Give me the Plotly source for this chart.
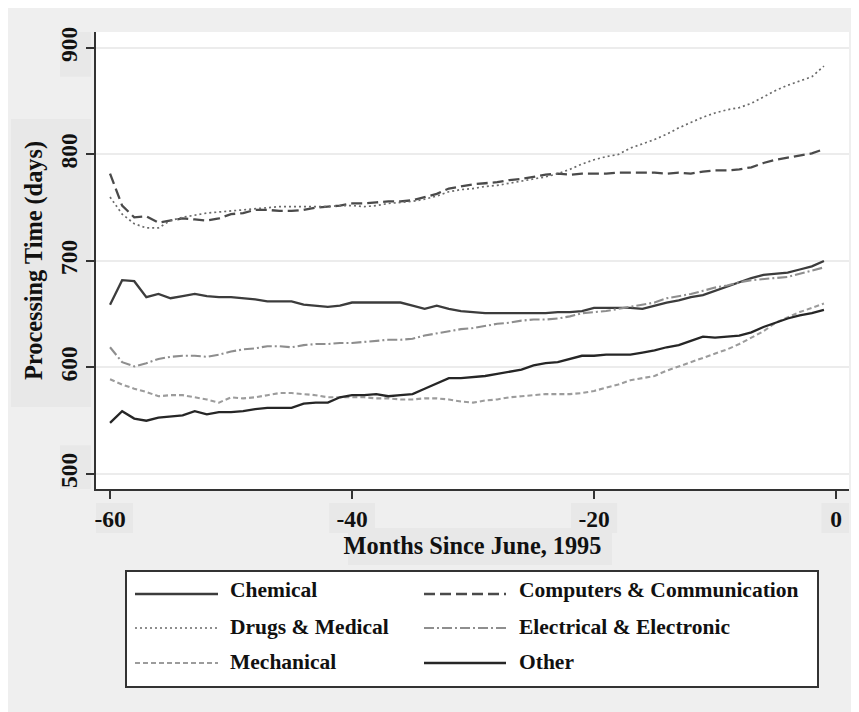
import plotly.graph_objects as go

months = list(range(-60, 0))

chemical = [659, 682, 681, 666, 669, 665, 667, 669, 667, 666,
            666, 665, 664, 662, 662, 662, 659, 658, 657, 658,
            661, 661, 661, 661, 661, 658, 655, 658, 655, 653,
            652, 651, 651, 651, 651, 651, 651, 652, 652, 653,
            656, 656, 656, 656, 655, 658, 661, 663, 666, 668,
            672, 676, 680, 684, 687, 688, 689, 692, 695, 700]

computers = [782, 752, 741, 742, 736, 738, 740, 739, 738, 740,
             744, 745, 748, 748, 747, 747, 748, 750, 751, 752,
             754, 754, 755, 756, 756, 757, 760, 763, 768, 770,
             772, 773, 774, 776, 777, 779, 781, 782, 781, 782,
             782, 782, 783, 783, 783, 783, 782, 783, 782, 784,
             785, 785, 786, 788, 792, 795, 797, 799, 801, 805]

drugs = [760, 744, 735, 731, 731, 738, 741, 743, 745, 746,
         747, 748, 749, 750, 751, 751, 751, 751, 751, 752,
         752, 751, 752, 754, 755, 756, 758, 761, 765, 767,
         768, 770, 771, 773, 775, 777, 779, 782, 786, 791,
         795, 798, 800, 806, 810, 814, 819, 825, 830, 835,
         839, 842, 844, 848, 854, 860, 865, 869, 873, 883]

electrical = [619, 605, 601, 604, 608, 610, 611, 611, 610, 612,
              615, 617, 618, 620, 620, 619, 621, 622, 622, 623,
              623, 624, 625, 626, 626, 627, 630, 632, 634, 636,
              637, 639, 641, 642, 644, 645, 645, 646, 648, 651,
              652, 653, 655, 657, 659, 661, 665, 667, 669, 672,
              675, 677, 680, 682, 683, 684, 685, 688, 691, 694]

mechanical = [589, 584, 580, 577, 573, 574, 574, 572, 570, 567,
              572, 571, 572, 574, 576, 576, 575, 574, 572, 572,
              572, 572, 571, 571, 570, 570, 571, 571, 570, 568,
              567, 569, 570, 572, 573, 574, 575, 575, 575, 576,
              578, 581, 584, 588, 590, 592, 597, 601, 605, 609,
              613, 617, 622, 628, 634, 642, 647, 652, 656, 660]

other = [548, 559, 552, 550, 553, 554, 555, 559, 556, 558,
         558, 559, 561, 562, 562, 562, 566, 567, 567, 572,
         574, 574, 575, 573, 574, 575, 580, 585, 590, 590,
         591, 592, 594, 596, 598, 602, 604, 605, 608, 611,
         611, 612, 612, 612, 614, 616, 619, 621, 625, 629,
         628, 629, 630, 633, 638, 642, 646, 649, 651, 654]

names = ["Chemical", "Computers & Communication", "Drugs & Medical",
         "Electrical & Electronic", "Mechanical", "Other"]
series = [chemical, computers, drugs, electrical, mechanical, other]

x_ticks = [-60, -40, -20, 0]
y_ticks = [500, 600, 700, 800, 900]

styles = [
    dict(color="#3c3c3c", width=2.3, dash="solid"),
    dict(color="#4a4a4a", width=2.3, dash="11px,5px"),
    dict(color="#6a6a6a", width=1.7, dash="2px,3px"),
    dict(color="#8e8e8e", width=2.1, dash="10px,3px,2px,3px"),
    dict(color="#9c9c9c", width=2.1, dash="5px,3px"),
    dict(color="#262626", width=2.3, dash="solid"),
]

FONT = "Liberation Serif"
OFF = 8                      # page body margin
W, H = 859 - OFF, 712 - OFF
SL, SR, ST, SB = 96, 849, 32, 489   # plot area in screen pixels
L, R, T, B = SL - OFF, SR - OFF, ST - OFF, SB - OFF
XR = [-61.16, 1.07]
YR = [485.9, 915.0]

def px(xs):
    return (xs - SL) / (SR - SL)

def py(ys):
    return (SB - ys) / (SB - ST)

fig = go.Figure()
for name, vals, st in zip(names, series, styles):
    fig.add_trace(go.Scatter(x=months, y=vals, mode="lines", name=name,
                             line=st, showlegend=False))

shapes = []
annotations = []
BOX = "#e8e8e8"

# faint label boxes (as in the source export)
shapes.append(dict(type="rect", xref="paper", yref="paper", x0=px(11), x1=px(91),
                   y0=py(407), y1=py(119), fillcolor=BOX, line_width=0, layer="below"))
for v in y_ticks:
    shapes.append(dict(type="rect", xref="paper", yref="y", x0=px(60), x1=px(91),
                       y0=v - 27, y1=v + 27, fillcolor=BOX, line_width=0, layer="below"))
for v in x_ticks:
    w = 1.9 if v != 0 else 1.2
    shapes.append(dict(type="rect", xref="x", yref="paper", x0=v - w, x1=v + w,
                       y0=py(533), y1=py(503), fillcolor=BOX, line_width=0, layer="below"))
shapes.append(dict(type="rect", xref="paper", yref="paper", x0=px(348), x1=px(612),
                   y0=py(565), y1=py(528), fillcolor=BOX, line_width=0, layer="below"))

# legend box
shapes.append(dict(type="rect", xref="paper", yref="paper", x0=px(126), x1=px(818),
                   y0=py(687), y1=py(571), fillcolor="white",
                   line=dict(color="#333333", width=2)))
cols = [(135, 218, 228), (424, 506, 517)]
rows = [(594, 590), (628, 627), (663, 662)]
for i, (name, st) in enumerate(zip(names, styles)):
    r, c = divmod(i, 2)
    x0, x1, xt = cols[c]
    yl, yt = rows[r]
    shapes.append(dict(type="line", xref="paper", yref="paper",
                       x0=px(x0), x1=px(x1), y0=py(yl), y1=py(yl),
                       line=dict(color=st["color"], width=st["width"], dash=st["dash"])))
    annotations.append(dict(xref="paper", yref="paper", x=px(xt), y=py(yt),
                            text="<b>%s</b>" % name, showarrow=False,
                            xanchor="left", yanchor="middle",
                            font=dict(family=FONT, size=21.5, color="#111111")))

fig.update_layout(
    width=W, height=H,
    margin=dict(l=L, r=W - R, t=T, b=H - B, pad=0),
    paper_bgcolor="#efefef",
    plot_bgcolor="white",
    font=dict(family=FONT, size=23, color="#111111"),
    shapes=shapes,
    annotations=annotations,
    showlegend=False,
)
fig.update_xaxes(
    range=XR, tickvals=x_ticks, ticktext=["<b>%d</b>" % v for v in x_ticks],
    showgrid=False, zeroline=False,
    showline=True, linecolor="#333333", linewidth=2,
    ticks="outside", ticklen=8, tickwidth=1.5, tickcolor="#333333",
    tickfont=dict(family=FONT, size=23.5, color="#111111"),
    title=dict(text="<b>Months Since June, 1995</b>", standoff=4,
               font=dict(family=FONT, size=24.3, color="#111111")),
)
fig.update_yaxes(
    range=YR, tickvals=y_ticks, ticktext=["<b>%d</b>" % v for v in y_ticks],
    showgrid=True, gridcolor="#ececec", gridwidth=1.5, zeroline=False,
    showline=True, linecolor="#333333", linewidth=2,
    ticks="outside", ticklen=8, tickwidth=1.5, tickcolor="#333333",
    tickangle=-90,
    tickfont=dict(family=FONT, size=23.5, color="#111111"),
    title=dict(text="<b>Processing Time (days)</b>", standoff=6,
               font=dict(family=FONT, size=24.3, color="#111111")),
)

fig.write_html("out.html")
